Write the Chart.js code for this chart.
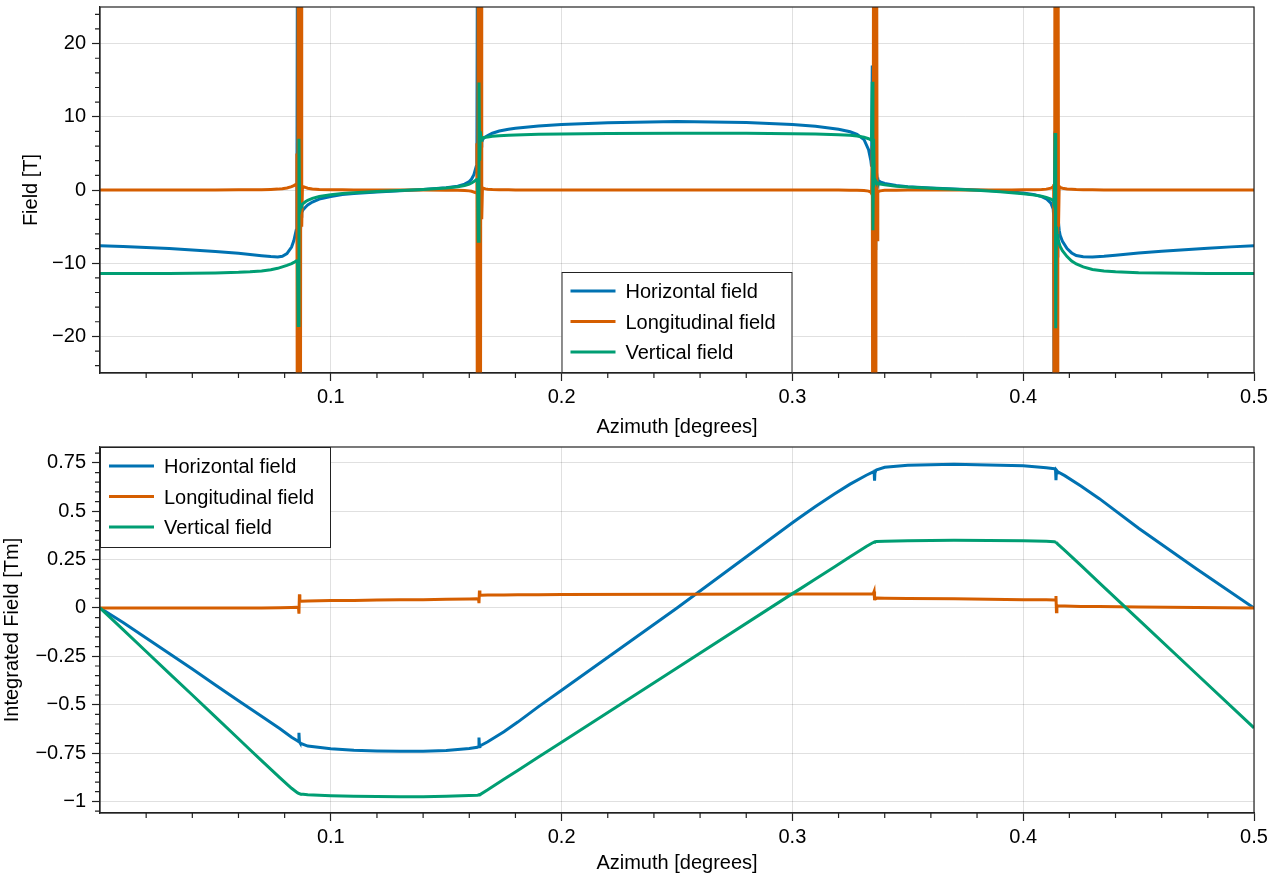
<!DOCTYPE html>
<html>
<head>
<meta charset="utf-8">
<script src="https://cdn.jsdelivr.net/npm/chart.js@4.4.1/dist/chart.umd.min.js"></script>
<style>
  html, body { margin: 0; padding: 0; background: #fff; }
  .panel { position: absolute; left: 0; width: 1288px; height: 440px; }
  #topPanel { top: 0; }
  #bottomPanel { top: 440px; }
</style>
</head>
<body>
<div class="panel" id="topPanel"><canvas id="fieldChart" width="1288" height="440"></canvas></div>
<div class="panel" id="bottomPanel"><canvas id="integratedChart" width="1288" height="440"></canvas></div>
<script>
// ---------------- data : field along the azimuth (top) ----------------
const fieldAzimuth = [
  0, 0.01, 0.02, 0.03, 0.04, 0.05, 0.06, 0.065, 0.07, 0.074, 0.077, 0.079, 0.081, 0.083, 0.084, 0.085,
  0.0853, 0.0856, 0.0859, 0.0862, 0.0865, 0.0868, 0.0871, 0.0874, 0.0877,
  0.088, 0.089, 0.09, 0.092, 0.095, 0.1, 0.105, 0.11, 0.12, 0.13, 0.14, 0.15, 0.155, 0.158, 0.16, 0.161, 0.162, 0.163,
  0.1633, 0.1636, 0.1639, 0.1642, 0.1645, 0.1648, 0.1651, 0.1654, 0.1657,
  0.166, 0.167, 0.168, 0.17, 0.173, 0.177, 0.18, 0.19, 0.2, 0.22, 0.25, 0.28, 0.3, 0.31, 0.32, 0.325, 0.328, 0.331, 0.333, 0.334,
  0.3343, 0.3346, 0.3349, 0.3352, 0.3355, 0.3358, 0.3361, 0.3364, 0.3367,
  0.337, 0.338, 0.34, 0.345, 0.35, 0.36, 0.37, 0.38, 0.39, 0.395, 0.4, 0.405, 0.408, 0.41, 0.412, 0.413,
  0.4132, 0.4135, 0.4138, 0.4141, 0.4144, 0.4147, 0.415, 0.4153, 0.4156,
  0.416, 0.417, 0.419, 0.421, 0.423, 0.426, 0.43, 0.435, 0.44, 0.45, 0.46, 0.47, 0.48, 0.49, 0.5
];
const fieldHorizontal = [
  -7.6, -7.72, -7.85, -8.0, -8.2, -8.4, -8.65, -8.8, -8.97, -9.1, -9.15, -9.05, -8.7, -7.8, -6.9, -5.5,
  -4.5, 45, -6, 9, -1, -6, -3.6, -3.1, -2.9,
  -2.7, -2.35, -2.05, -1.65, -1.25, -0.88, -0.63, -0.47, -0.26, -0.1, 0.06, 0.3, 0.52, 0.8, 1.15, 1.5, 2.1, 3.2,
  4.5, 45, -8, 17, 3, 10, 6, 6.5, 6.8,
  7.0, 7.25, 7.45, 7.75, 8.05, 8.3, 8.45, 8.75, 8.95, 9.2, 9.35, 9.22, 8.95, 8.7, 8.3, 7.95, 7.6, 6.9, 5.5, 4.0,
  3.2, 17, 5, -45, 8, -8, 4, 2.5, 1.7,
  1.35, 1.12, 0.9, 0.62, 0.46, 0.26, 0.12, 0.0, -0.15, -0.27, -0.42, -0.65, -0.9, -1.2, -1.8, -2.6,
  -3.5, -45, 8, -6, 4, -9, -3, -4.5, -5.5,
  -6.2, -7.0, -8.0, -8.6, -8.95, -9.12, -9.15, -9.05, -8.9, -8.62, -8.38, -8.15, -7.95, -7.77, -7.6
];
const fieldLongitudinal = [
  0, 0, 0, 0, 0, 0, 0.02, 0.03, 0.05, 0.08, 0.12, 0.18, 0.28, 0.45, 0.6, 0.8,
  5, -60, 60, -60, 60, -60, 60, -5, 0.4,
  0.45, 0.35, 0.25, 0.15, 0.08, 0.04, 0.02, 0.01, 0, 0, 0, -0.02, -0.04, -0.07, -0.12, -0.18, -0.28, -0.4,
  6.4, -60, 60, -60, 60, -60, 60, -4, 0.3,
  0.25, 0.15, 0.1, 0.06, 0.03, 0.02, 0.01, 0, 0, 0, 0, 0, 0, 0, -0.01, -0.02, -0.04, -0.08, -0.15, -0.3,
  -0.5, 6, -60, 60, -60, 60, -60, 60, -6.8,
  -0.25, -0.12, -0.05, -0.02, 0, 0, 0, 0, 0, 0.01, 0.02, 0.04, 0.07, 0.12, 0.25, 0.45,
  0.8, -60, 60, -60, 60, -60, 60, -5, 0.5,
  0.35, 0.25, 0.15, 0.1, 0.06, 0.04, 0.02, 0.01, 0, 0, 0, 0, 0, 0, 0
];
const fieldVertical = [
  -11.4, -11.4, -11.4, -11.4, -11.38, -11.33, -11.25, -11.17, -11.05, -10.9, -10.7, -10.5, -10.3, -10.05, -9.9, -9.7,
  -9.5, -10, -18.5, 7, -3, -2.6, -2.3, -2.1, -1.95,
  -1.85, -1.6, -1.4, -1.15, -0.9, -0.65, -0.48, -0.36, -0.2, -0.06, 0.08, 0.27, 0.45, 0.62, 0.8, 0.95, 1.15, 1.4,
  1.6, 1.0, -7, 14.7, 4, 8, 6.8, 7.0, 7.1,
  7.15, 7.2, 7.25, 7.33, 7.42, 7.48, 7.53, 7.6, 7.65, 7.72, 7.75, 7.74, 7.7, 7.65, 7.56, 7.48, 7.38, 7.22, 7.0, 6.85,
  6.8, 14.8, -5.5, 7, 1, 1.4, 1.2, 1.1, 1.0,
  0.92, 0.82, 0.7, 0.52, 0.4, 0.24, 0.1, -0.05, -0.24, -0.36, -0.5, -0.7, -0.85, -1.0, -1.25, -1.45,
  -1.6, -2, 7.8, -18.9, -5, -6, -6.5, -7, -7.3,
  -7.7, -8.3, -9.1, -9.7, -10.1, -10.5, -10.85, -11.05, -11.18, -11.3, -11.35, -11.38, -11.4, -11.4, -11.4
];

// ---------------- data : integrated field (bottom) ----------------
const intAzimuth = [
  0, 0.01, 0.02, 0.03, 0.04, 0.05, 0.06, 0.065, 0.07, 0.078, 0.083, 0.0855, 0.086, 0.0862, 0.0864, 0.0866, 0.087,
  0.09, 0.1, 0.11, 0.12, 0.13, 0.14, 0.15, 0.16, 0.1635, 0.164, 0.1642, 0.1644, 0.1646, 0.165,
  0.168, 0.175, 0.181, 0.19, 0.2, 0.25, 0.3, 0.3035, 0.31, 0.318, 0.325, 0.332, 0.335, 0.3354, 0.3356, 0.3358, 0.336, 0.3365,
  0.34, 0.35, 0.37, 0.4, 0.41, 0.4135, 0.414, 0.4142, 0.4144, 0.4146, 0.415, 0.418, 0.425, 0.433, 0.45, 0.475, 0.5
];
const intHorizontal = [
  0, -0.075, -0.155, -0.235, -0.315, -0.398, -0.48, -0.52, -0.56, -0.625, -0.668, -0.686, -0.69, -0.645, -0.692, -0.696, -0.7,
  -0.714, -0.728, -0.735, -0.739, -0.741, -0.741, -0.737, -0.727, -0.72, -0.717, -0.67, -0.716, -0.714, -0.711,
  -0.692, -0.64, -0.59, -0.51, -0.425, 0.0, 0.44, 0.47, 0.524, 0.588, 0.64, 0.686, 0.703, 0.705, 0.658, 0.708, 0.71, 0.714,
  0.727, 0.738, 0.743, 0.735, 0.725, 0.72, 0.716, 0.66, 0.712, 0.709, 0.704, 0.684, 0.63, 0.565, 0.412, 0.203, 0.0
];
const intLongitudinal = [
  0, 0, 0, 0, 0, 0, 0, 0, 0, 0.001, 0.002, 0.003, 0.004, -0.03, 0.07, 0.034, 0.035,
  0.036, 0.038, 0.039, 0.041, 0.042, 0.043, 0.045, 0.046, 0.047, 0.048, 0.025, 0.09, 0.066, 0.066,
  0.067, 0.067, 0.068, 0.068, 0.069, 0.071, 0.072, 0.072, 0.072, 0.072, 0.072, 0.072, 0.072, 0.085, 0.04, 0.052, 0.051, 0.051,
  0.05, 0.049, 0.047, 0.043, 0.042, 0.041, 0.041, 0.062, -0.02, 0.012, 0.011, 0.01, 0.008, 0.007, 0.005, 0.002, 0.0
];
const intVertical = [
  0, -0.112, -0.225, -0.338, -0.45, -0.563, -0.676, -0.733, -0.789, -0.878, -0.932, -0.955, -0.958, -0.959, -0.96, -0.961, -0.962,
  -0.966, -0.971, -0.974, -0.975, -0.976, -0.976, -0.974, -0.97, -0.968, -0.967, -0.966, -0.965, -0.964, -0.962,
  -0.94, -0.886, -0.84, -0.77, -0.694, -0.31, 0.074, 0.1, 0.15, 0.21, 0.265, 0.318, 0.338, 0.34, 0.341, 0.342, 0.342, 0.343,
  0.345, 0.348, 0.35, 0.348, 0.345, 0.342, 0.34, 0.339, 0.337, 0.335, 0.33, 0.298, 0.22, 0.13, -0.06, -0.34, -0.62
];

const seriesNames = ['Horizontal field', 'Longitudinal field', 'Vertical field'];
const seriesColors = ['#0072B2', '#D55E00', '#009E73'];

// major ticks (labelled)
const azimuthTicks = [0.1, 0.2, 0.3, 0.4, 0.5];
const fieldTicks = [-20, -10, 0, 10, 20];
const intTicks = [-1, -0.75, -0.5, -0.25, 0, 0.25, 0.5, 0.75];

Chart.defaults.font.family = "'Liberation Sans', Arial, sans-serif";
Chart.defaults.font.size = 20;
Chart.defaults.color = '#000';

const GRID = 'rgba(0,0,0,0.12)';
const SPINE = '#222';
const NONE = 'rgba(0,0,0,0)';

function pts(xs, ys) { return xs.map((x, i) => ({ x: x, y: ys[i] })); }
function isMajor(v, majors) { return majors.some(m => Math.abs(m - v) < 1e-7); }
function fmt(v) { return (v < 0 ? '\u2212' : '') + String(Math.abs(v)); }
function tickList(from, to, step) {
  const out = [];
  for (let k = 0; from + k * step <= to + 1e-9; k++) out.push({ value: +(from + k * step).toFixed(6) });
  return out;
}

// frame, minor ticks and in-axis legend box
const axisExtras = {
  id: 'axisExtras',
  afterDatasetsDraw(chart, args, opts) {
    const { ctx, chartArea: a, scales } = chart;
    ctx.save();
    ctx.strokeStyle = SPINE;
    ctx.lineWidth = 1.2;
    // minor ticks
    ctx.beginPath();
    scales.x.ticks.forEach(t => {
      if (isMajor(t.value, azimuthTicks)) return;
      const px = scales.x.getPixelForValue(t.value);
      ctx.moveTo(px, a.bottom); ctx.lineTo(px, a.bottom + 5);
    });
    scales.y.ticks.forEach(t => {
      if (isMajor(t.value, opts.majors)) return;
      const py = scales.y.getPixelForValue(t.value);
      ctx.moveTo(a.left, py); ctx.lineTo(a.left - 5, py);
    });
    ctx.stroke();
    // legend
    const w = 231, h = 101;
    const x0 = opts.where === 'bottom' ? (a.left + a.right) / 2 - w / 2 : a.left;
    const y0 = opts.where === 'bottom' ? a.bottom - h : a.top;
    ctx.fillStyle = '#fff';
    ctx.fillRect(x0, y0, w, h);
    ctx.lineWidth = 1;
    ctx.strokeRect(x0 + 0.5, y0 + 0.5, w - 1, h - 1);
    chart.data.datasets.forEach((ds, i) => {
      const yy = y0 + 19 + i * 30.5;
      ctx.strokeStyle = ds.borderColor;
      ctx.lineWidth = 3;
      ctx.beginPath(); ctx.moveTo(x0 + 9, yy); ctx.lineTo(x0 + 54, yy); ctx.stroke();
      ctx.fillStyle = '#000';
      ctx.font = "20px 'Liberation Sans', Arial, sans-serif";
      ctx.textBaseline = 'alphabetic';
      ctx.fillText(ds.label, x0 + 64, yy + 7);
    });
    // frame
    ctx.strokeStyle = SPINE;
    ctx.lineWidth = 1.2;
    ctx.strokeRect(a.left, a.top, a.right - a.left, a.bottom - a.top);
    ctx.restore();
  }
};

function makeChart(id, xs, series, yMin, yMax, yMajors, yStepFrom, yStep, yTitle, yTitlePad, xTitlePad, where) {
  return new Chart(document.getElementById(id), {
    type: 'line',
    data: {
      datasets: series.map((ys, i) => ({
        label: seriesNames[i],
        data: pts(xs, ys),
        borderColor: seriesColors[i],
        borderWidth: 3,
        pointRadius: 0,
        tension: 0,
        fill: false,
        clip: 0,
        order: 3 - i
      }))
    },
    options: {
      responsive: false,
      animation: false,
      devicePixelRatio: 1,
      layout: { padding: { top: 7, right: 34, left: 0, bottom: 0 } },
      plugins: {
        legend: { display: false },
        tooltip: { enabled: false },
        axisExtras: { where: where, majors: yMajors }
      },
      scales: {
        x: {
          type: 'linear', min: 0, max: 0.5,
          afterBuildTicks: s => { s.ticks = tickList(0.02, 0.5, 0.02); },
          afterFit: s => { s.height = 67; s.paddingLeft = 0; s.paddingRight = 0; },
          ticks: { autoSkip: false, maxRotation: 0, padding: 4,
                   callback: v => isMajor(v, azimuthTicks) ? fmt(v) : '' },
          grid: {
            color: c => (c.tick && isMajor(c.tick.value, azimuthTicks)) ? GRID : NONE,
            tickColor: c => (c.tick && isMajor(c.tick.value, azimuthTicks)) ? SPINE : NONE,
            tickLength: 8, tickWidth: 1.2, lineWidth: 1
          },
          border: { display: true, color: SPINE, width: 1.2 },
          title: { display: true, text: 'Azimuth [degrees]', padding: { top: 0, bottom: xTitlePad } }
        },
        y: {
          type: 'linear', min: yMin, max: yMax,
          afterBuildTicks: s => { s.ticks = tickList(yStepFrom, yMax, yStep); },
          afterFit: s => { s.width = 100; s.paddingTop = 0; s.paddingBottom = 0; },
          ticks: { autoSkip: false, padding: 6,
                   callback: v => isMajor(v, yMajors) ? fmt(v) : '' },
          grid: {
            color: c => (c.tick && isMajor(c.tick.value, yMajors)) ? GRID : NONE,
            tickColor: c => (c.tick && isMajor(c.tick.value, yMajors)) ? SPINE : NONE,
            tickLength: 8, tickWidth: 1.2, lineWidth: 1
          },
          border: { display: true, color: SPINE, width: 1.2 },
          title: { display: true, text: yTitle, padding: { top: yTitlePad, bottom: 0 } }
        }
      }
    },
    plugins: [axisExtras]
  });
}

makeChart('fieldChart', fieldAzimuth, [fieldHorizontal, fieldLongitudinal, fieldVertical],
  -25, 25, fieldTicks, -24, 2, 'Field [T]', 19, 1, 'bottom');
makeChart('integratedChart', intAzimuth, [intHorizontal, intLongitudinal, intVertical],
  -1.06, 0.832, intTicks, -1.05, 0.05, 'Integrated Field [Tm]', 0, 5, 'top');
</script>
</body>
</html>
